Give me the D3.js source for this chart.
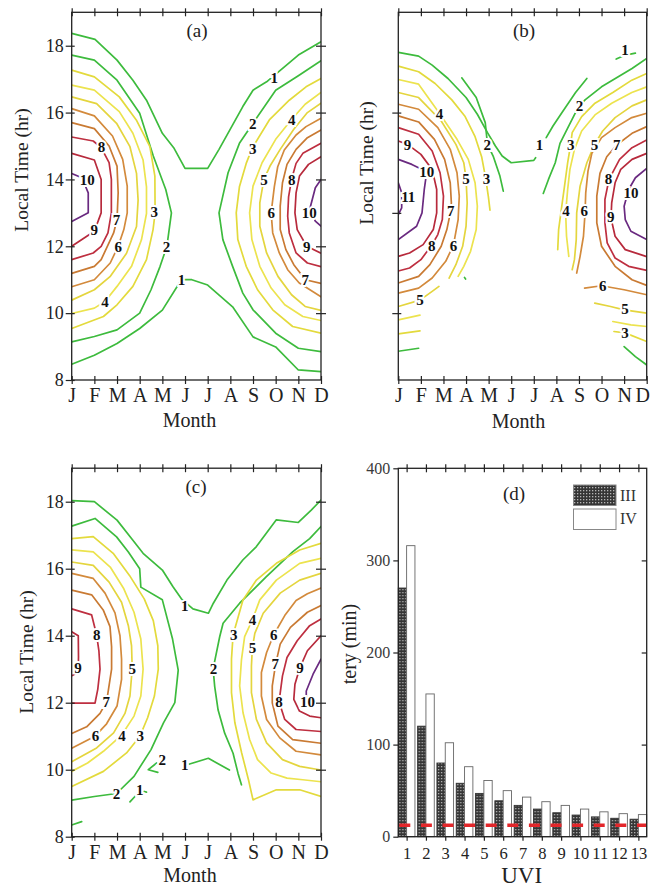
<!DOCTYPE html>
<html><head><meta charset="utf-8">
<script src="https://cdn.jsdelivr.net/npm/d3@7"></script>
<style>body{margin:0;background:#fff}svg{display:block}</style>
</head><body><svg id="c" width="650" height="888"></svg>
<script>
// ---------------- DATA ----------------
const months = ["J","F","M","A","M","J","J","A","S","O","N","D"];
const hourTicks = [8,10,12,14,16,18];
const hourTicksB = [10,13,16];

// contour lines: [level, [[monthIndex, localHour], ...]]
const contoursA = [
 [1,[[0,18.37],[1.03,18.19],[2,17.57],[2.7,16.97],[3.3,16.37],[4,15.38],[4.5,14.95],[5,14.33],[6,14.33],[6.5,14.9],[7.55,16.18],[8,16.67],[8.6,16.92],[10,17.72],[11,18.12]]],
 [1,[[0,8.47],[1,8.74],[2,9.09],[3,9.54],[4,10.09],[4.84,11],[5.3,11],[6,10.84],[7.1,10.19],[8,9.29],[9,8.99],[10,8.3],[11,8.25]]],
 [2,[[0,17.72],[1,17.57],[2,16.97],[3,15.98],[3.6,14.7],[4.15,13.7],[4.4,13],[4.2,12],[3.9,11.4],[3.5,10.7],[3,10],[2,9.5],[1,9.3],[0,9.14]]],
 [3,[[0,17.27],[1,17.07],[2.1,16.47],[2.85,15.78],[3.45,14.98],[3.67,14.1],[3.68,13],[3.59,12.5],[3.3,11.6],[2.7,10.8],[2,10.25],[1.4,9.9],[0,9.54]]],
 [4,[[0,16.82],[1,16.67],[2.1,16.03],[2.7,15.38],[3.15,14.58],[3.3,13.78],[3.3,12.98],[3.08,12.2],[2.64,11.4],[2,10.8],[1.47,10.35],[1,10.15],[0,9.99]]],
 [5,[[0,16.47],[1.1,16.27],[1.98,15.68],[2.57,14.98],[2.86,14.18],[2.93,13.38],[2.86,12.59],[2.42,11.79],[1.69,11.09],[1,10.7],[0,10.39]]],
 [6,[[0,16.12],[1,15.9],[1.8,15.3],[2.25,14.6],[2.45,13.8],[2.45,13],[2.3,12.5],[2.05,12],[1.7,11.5],[1,11],[0,10.79]]],
 [7,[[0,15.7],[1,15.52],[1.65,15],[2,14.4],[2.05,13.6],[2,12.8],[1.85,12.4],[1.3,11.6],[1,11.4],[0,11.19]]],
 [8,[[0,15.27],[0.95,15.15],[1.3,14.95],[1.65,14.5],[1.75,14],[1.75,13],[1.6,12.4],[1.3,12],[0.95,11.8],[0,11.6]]],
 [9,[[0,14.78],[1,14.58],[1.3,14],[1.3,13],[1,12.45],[0,12]]],
 [10,[[0,14.18],[0.45,14.05],[0.73,13.6],[0.73,13],[0,12.74]]],
 [2,[[11,17.55],[10,17.1],[9,16.67],[8,15.68],[7.4,15.08],[6.9,14.2],[6.5,13],[6.67,12.2],[7.1,11.4],[7.55,10.6],[8,10.1],[9,9.4],[10,8.95],[11,8.85]]],
 [3,[[11,17.02],[10.34,16.77],[9.6,16.37],[8.72,15.78],[7.96,14.93],[7.7,14.48],[7.4,13.78],[7.26,13],[7.33,12.2],[7.7,11.4],[8.2,10.7],[8.87,10.1],[9.75,9.6],[11,9.4]]],
 [4,[[11,16.6],[10.3,16.25],[9.71,15.8],[9,15.2],[8.4,14.5],[8,13.8],[7.85,13],[7.95,12.2],[8.3,11.4],[8.8,10.75],[9.4,10.25],[10.2,9.9],[11,9.78]]],
 [5,[[11,16.28],[10.4,16],[9.8,15.5],[9.2,14.9],[8.75,14.4],[8.48,14],[8.3,13.3],[8.3,12.6],[8.6,11.8],[9.1,11.1],[9.7,10.55],[10.3,10.2],[11,10.08]]],
 [6,[[11,15.83],[10.34,15.58],[9.9,15.33],[9.38,14.88],[9.09,14.38],[8.94,13.78],[8.8,13],[8.87,12.4],[9.16,11.8],[9.53,11.3],[10.04,10.9],[11,10.49]]],
 [7,[[11,15.48],[10.4,15.25],[9.9,14.9],[9.5,14.45],[9.3,13.9],[9.2,13.2],[9.2,12.5],[9.45,11.9],[9.8,11.45],[10.31,11],[11,10.89]]],
 [8,[[11,15.08],[10.2,14.78],[9.9,14.48],[9.71,14.03],[9.57,13.48],[9.53,12.9],[9.6,12.4],[9.9,11.8],[10.4,11.5],[11,11.39]]],
 [9,[[11,14.68],[10.45,14.45],[10.05,14.1],[9.9,13.6],[9.85,13],[9.95,12.5],[10.37,12],[11,11.79]]],
 [10,[[11,14],[10.75,13.75],[10.5,13.1],[10.75,12.75],[11,12.6]]]
];
const labelsA = [[10,0.69,14.0],[9,1.0,12.49],[8,1.32,14.98],[7,1.98,12.79],[6,2.05,12.0],[4,1.47,10.34],[3,3.64,13.03],[2,4.18,12.0],[1,4.84,11.0],
 [1,8.94,17.05],[2,7.99,15.68],[3,7.99,14.93],[4,9.71,15.8],[5,8.48,14.0],[8,9.71,14.0],[6,8.8,13.0],[10,10.48,13.0],[9,10.37,12.0],[7,10.31,11.0]];

const contoursB = [
 [2,[[0,17.8],[0.9,17.69],[1.5,17.42],[2.2,17.02],[3,16.45],[3.5,15.95],[3.95,15.4],[4.3,15],[4.6,14.7],[5,14.5],[6,14.57],[6.08,14.65]]],
 [1,[[6.55,15.25],[6.85,15.6],[7.25,16],[7.85,16.6],[8.35,17.02]]],
 [1,[[9.65,17.6],[10.05,17.72],[10.5,17.78]]],
 [1,[[2.81,17.04],[3.45,16.45],[3.85,15.7],[3.95,15.05],[4.2,14.7],[4.5,14.1],[4.65,13.65]]],
 [2,[[11,17.62],[10.35,17.32],[9,16.77],[8.27,16.38],[7.97,16.16],[7.55,15.6],[7.16,15.08],[6.95,14.5],[6.65,14],[6.42,13.58]]],
 [2,[[0,8.86],[0.9,8.95]]],
 [2,[[2.93,11.07],[2.98,11.02]]],
 [2,[[10,9.0],[10.5,8.7],[11,8.45]]],
 [3,[[0,17.39],[0.9,17.22],[1.63,16.87],[2.37,16.38],[2.96,15.88],[3.4,15.28],[3.69,14.68],[3.87,14.03],[3.99,13.48],[4.06,13.08]]],
 [3,[[0,9.38],[0.96,9.47]]],
 [3,[[11,17.17],[10.34,16.97],[9.5,16.6],[8.71,16.28],[8.12,15.88],[7.7,15.4],[7.63,15.03],[7.5,14.5],[7.38,13.9],[7.24,13.2],[7.1,12.5],[7.06,11.9]]],
 [3,[[9.55,9.45],[10.04,9.41],[11,9.15]]],
 [4,[[0,16.99],[0.9,16.85],[1.82,15.98],[2.6,15.2],[3.1,14.6],[3.4,13.9],[3.5,13.2],[3.45,12.5],[3.2,11.85],[2.9,11.4],[2.65,11.1]]],
 [4,[[0,9.8],[0.96,9.94]]],
 [4,[[11,16.77],[10.34,16.6],[9.45,16.28],[8.71,15.93],[8.12,15.45],[7.8,14.9],[7.6,14.3],[7.5,13.7],[7.41,13],[7.45,12.3],[7.55,11.7]]],
 [4,[[9.5,9.75],[10.3,9.65],[11,9.6]]],
 [5,[[0,16.6],[0.9,16.45],[1.9,15.75],[2.55,15.05],[2.9,14.5],[3,14.03],[3.05,13.3],[3,12.6],[2.85,12],[2.55,11.45],[2.25,11.05]]],
 [5,[[0,10.2],[0.96,10.39],[1.5,10.65],[1.8,10.8]]],
 [5,[[11,16.38],[10.35,16.2],[9.6,15.85],[9.05,15.45],[8.68,15.03],[8.35,14.5],[8.05,13.8],[7.9,13],[7.88,12.2],[7.8,11.6],[7.7,11.3]]],
 [5,[[8.7,10.3],[9.4,10.2],[10,10.1],[11,10]]],
 [6,[[0,16.25],[0.9,16.1],[1.75,15.55],[2.3,14.9],[2.6,14.2],[2.7,13.5],[2.65,12.8],[2.44,12.03],[2.1,11.55],[1.5,11.05],[0.9,10.75],[0,10.6]]],
 [6,[[11,15.98],[10.34,15.85],[9.6,15.55],[9,15.25],[8.57,14.78],[8.4,14.25],[8.3,13.6],[8.27,13],[8.2,12.3],[8.05,11.7],[7.9,11.2]]],
 [6,[[8.25,10.75],[9,10.82],[10,10.7],[11,10.55]]],
 [7,[[0,15.9],[0.9,15.72],[1.6,15.2],[2.05,14.6],[2.3,13.9],[2.35,13.3],[2.32,13.05],[2.15,12.5],[1.9,12],[1.4,11.45],[0.9,11.1],[0,10.9]]],
 [7,[[11,15.58],[10.35,15.38],[9.67,15.03],[9.23,14.68],[8.93,14.18],[8.79,13.5],[8.79,12.7],[9,12],[9.6,11.4],[10.35,11],[11,10.83]]],
 [8,[[0,15.55],[0.9,15.35],[1.5,14.85],[1.85,14.2],[2,13.5],[1.95,12.8],[1.75,12.35],[1.48,12.03],[1,11.6],[0.5,11.35],[0,11.26]]],
 [8,[[11,15.18],[10.35,14.95],[9.8,14.6],[9.33,14],[9.15,13.4],[9.15,12.7],[9.25,12.1],[9.6,11.65],[10.2,11.4],[11,11.28]]],
 [9,[[0,15.15],[0.41,15.05],[1,14.75],[1.5,14.3],[1.7,13.7],[1.7,13],[1.55,12.5],[1.1,12.05],[0.5,11.8],[0,11.7]]],
 [9,[[11,14.78],[10.35,14.6],[9.85,14.3],[9.6,13.9],[9.45,13.3],[9.42,12.84],[9.6,12.3],[10.05,11.9],[11,11.69]]],
 [10,[[0,14.6],[0.6,14.45],[1.26,14.23],[1.15,13.7],[1.05,13],[0.81,12.6],[0,12.2]]],
 [10,[[11,14.33],[10.5,14.05],[10.2,13.7],[10,13.2],[10.05,12.8],[10.3,12.45],[11,12.2]]],
 [11,[[0,13.9],[0.15,13.6],[0.15,13.15],[0,12.95]]]
];
const labelsB = [[4,1.82,15.98],[9,0.41,15.05],[10,1.26,14.23],[11,0.44,13.48],[7,2.32,13.05],[8,1.48,12.03],[6,2.44,12.03],[5,3.0,14.03],[3,3.91,14.03],[2,3.94,15.05],[5,0.96,10.39],
 [1,6.25,15.03],[3,7.64,15.03],[5,8.69,15.03],[7,9.67,15.03],[2,8.02,16.2],[1,10.04,17.89],[8,9.31,14.03],[10,10.31,13.6],[4,7.43,13.05],[6,8.23,13.05],[9,9.41,12.88],[6,9.05,10.83],[5,10.04,10.13],[3,10.04,9.41]];

const contoursC = [
 [1,[[0,18.03],[1,18],[2,17.45],[2.7,16.85],[3.15,16.46],[4,15.96],[4.47,15.46],[4.84,15.1],[5.35,14.8],[6.03,14.67],[6.25,14.97],[6.85,15.66],[7.55,16.26],[8.15,16.66],[9.03,17.46],[10,17.38],[10.57,17.75],[11,18.05]]],
 [1,[[5.2,10.17],[6.03,10.34],[6.96,9.99]]],
 [1,[[2.57,9.04],[2.79,9.2]]],
 [1,[[3.2,9.35],[3.3,9.33]]],
 [1,[[0,8.35],[0.44,8.45]]],
 [2,[[0,17.27],[1.03,17.5],[1.98,16.95],[2.5,16.5],[3,16],[3.05,15.45],[4,15.07],[4.45,13.9],[4.7,12.97],[4.55,12],[4.05,11.4],[3.5,10.6],[2.75,9.8],[1.98,9.29],[1,9.2],[0,9.09]]],
 [2,[[3.75,10.2],[3.38,10.0],[3.8,9.92]]],
 [2,[[11,17.26],[10.5,16.9],[9.76,16.51],[8.59,15.76],[7.41,14.97],[6.68,14.37],[6.53,13.97],[6.24,13.01],[6.31,12.48],[6.46,11.78],[6.75,11.09],[7.12,10.49],[7.34,9.89],[7.49,9.55]]],
 [3,[[0,16.9],[0.95,16.96],[1.83,16.46],[2.55,15.8],[3.2,15.1],[3.6,14.45],[3.8,13.7],[3.82,13],[3.65,12.2],[3.35,11.55],[3.01,11],[2.42,10.5],[1.4,9.95],[0,9.5]]],
 [4,[[0,16.56],[0.95,16.5],[1.7,16.05],[2.3,15.4],[2.75,14.7],[3.05,13.9],[3.15,13],[3.05,12.2],[2.75,11.6],[2.2,11.03],[1.4,10.55],[0.7,10.2],[0,9.95]]],
 [5,[[0,16.2],[0.95,16.1],[1.65,15.6],[2.2,15],[2.5,14.3],[2.64,13.7],[2.67,13.02],[2.57,12.2],[2.35,11.68],[1.85,11.1],[1.1,10.65],[0,10.24]]],
 [6,[[0,15.86],[0.95,15.71],[1.47,15.27],[1.91,14.68],[2.13,14],[2.2,13.3],[2.2,12.7],[2,11.9],[1.54,11.37],[1.03,11],[0,10.64]]],
 [7,[[0,15.36],[0.88,15.22],[1.39,14.77],[1.69,14.27],[1.76,13.67],[1.76,13],[1.54,12.03],[1.25,11.68],[0.66,11.28],[0,11.08]]],
 [8,[[0,14.8],[0.88,14.62],[1.1,14.02],[1.2,13.55],[1.25,13],[1.15,12.4],[1.03,11.99],[0,11.99]]],
 [9,[[0,14.12],[0.29,14],[0.3,13.37],[0.29,13],[0.12,12.85],[0,12.8]]],
 [3,[[11,16.76],[10.06,16.56],[9.03,16.16],[8.15,15.66],[7.56,15.07],[7.12,14.02],[7.05,13.3],[7.05,12.3],[7.2,11.4],[7.5,10.5],[7.8,9.7],[8,9.1],[9.03,9.4],[10.06,9.4],[11,9.2]]],
 [4,[[11,16.31],[10.06,16.16],[9.03,15.66],[8.3,15.07],[7.97,14.47],[7.63,13.97],[7.49,13.28],[7.41,12.5],[7.56,11.7],[7.85,10.9],[8.2,10.3],[8.8,9.9],[9.5,9.75],[10.2,9.7],[11,9.64]]],
 [5,[[11,15.86],[10.06,15.66],[9.2,15.27],[8.45,14.67],[8.08,14.07],[7.97,13.63],[7.93,13.1],[7.93,12.3],[8.15,11.5],[8.6,10.8],[9.3,10.3],[10.06,10.1],[11,9.99]]],
 [6,[[11,15.42],[10.4,15.25],[9.9,15.05],[9.4,14.6],[8.91,14.02],[8.6,13.5],[8.37,12.9],[8.37,12.2],[8.6,11.5],[9.18,10.95],[9.9,10.55],[11,10.44]]],
 [7,[[11,14.9],[10.4,14.7],[9.65,14.25],[9.2,13.75],[9,13.16],[8.85,12.5],[8.85,12],[9.1,11.3],[9.75,10.9],[11,10.79]]],
 [8,[[11,14.5],[10.5,14.3],[9.95,13.85],[9.5,13.35],[9.3,12.8],[9.15,12.03],[9.4,11.5],[9.9,11.2],[11,11.14]]],
 [9,[[11,14],[10.4,13.55],[10.06,13.03],[9.85,12.55],[9.8,12.1],[10.05,11.75],[10.5,11.6],[11,11.55]]],
 [10,[[11,13.3],[10.65,12.85],[10.35,12.35],[10.35,12.1]]]
];
const labelsC = [[1,4.99,14.88],[8,1.1,14.02],[9,0.28,13.05],[5,2.67,13.02],[7,1.52,12.02],[6,1.05,11.0],[4,2.22,11.02],[3,3.02,11.02],[2,3.99,10.31],[1,4.99,10.14],[2,1.98,9.29],[1,3.0,9.39],
 [2,6.26,13.02],[3,7.15,14.02],[4,7.98,14.47],[5,7.98,13.63],[6,8.92,14.02],[7,8.98,13.16],[9,10.07,13.03],[8,9.15,12.03],[10,10.4,12.02]];

// bar chart (d)
const uviCategories = ["1","2","3","4","5","6","7","8","9","10","11","12","13"];
const seriesNames = ["III","IV"];
const seriesIII = [270,120,80,58,47,39,34,30,26,23.5,21.5,20,19];
const seriesIV  = [316,155,102,76,61,50,43,38,34,30,27,25,24];
const refLineValue = 12.5;
const barTicks = [0,100,200,300,400];

// ---------------- STYLE / DRAW ----------------
const levelColor = {1:"#3dbb3d",2:"#3dbb3d",3:"#e3da3c",4:"#ece34e",5:"#e4d53e",6:"#d38a3c",7:"#c97a33",8:"#be2f40",9:"#b72a3c",10:"#6a2a80",11:"#6a2a80"};
const serif = "'Liberation Serif','Times New Roman',serif";
const svg = d3.select("#c");
const defs = svg.append("defs");

function contourPanel(o){
  const x = d3.scaleLinear().domain([0,11]).range([o.x0,o.x1]);
  const y = d3.scaleLinear().domain([8,19]).range([o.yBot,o.yTop]);
  const g = svg.append("g");
  defs.append("clipPath").attr("id",o.id).append("rect")
    .attr("x",o.x0).attr("y",o.yTop).attr("width",o.x1-o.x0).attr("height",o.yBot-o.yTop);
  const line = d3.line().x(d=>x(d[0])).y(d=>y(d[1]));
  g.append("g").attr("clip-path",`url(#${o.id})`)
    .selectAll("path").data(o.lines).join("path")
    .attr("d",d=>line(d[1])).attr("fill","none")
    .attr("stroke",d=>levelColor[d[0]]).attr("stroke-width",1.7)
    .attr("stroke-linejoin","round").attr("stroke-linecap","round");
  g.append("g").selectAll("text").data(o.labels).join("text")
    .attr("x",d=>x(d[1])).attr("y",d=>y(d[2]))
    .attr("text-anchor","middle").attr("dy","0.35em")
    .attr("font-family",serif).attr("font-weight","bold").attr("font-size",15)
    .attr("stroke","#fff").attr("stroke-width",4).attr("paint-order","stroke")
    .attr("fill","#111").text(d=>d[0]);
  // frame
  g.append("rect").attr("x",o.x0).attr("y",o.yTop).attr("width",o.x1-o.x0).attr("height",o.yBot-o.yTop)
    .attr("fill","none").attr("stroke","#222").attr("stroke-width",1.3);
  const mt = d3.range(12);
  const styleAxis = s=>{s.select(".domain").remove(); s.selectAll("line").attr("stroke","#222").attr("stroke-width",1.2);};
  // bottom
  const bx = g.append("g").attr("transform",`translate(0,${o.yBot})`)
    .call(d3.axisBottom(x).tickValues(mt).tickFormat(i=>months[i]).tickSize(4).tickPadding(4));
  styleAxis(bx);
  bx.selectAll("text").attr("font-family",serif).attr("font-size",20).attr("fill","#222").attr("dy",0).attr("y",o.monthBase-o.yBot);
  if(o.lastLabelEnd){
    bx.selectAll(".tick").filter(d=>d===11).select("text")
      .attr("text-anchor","end").attr("x",o.lastLabelEnd-o.x1);
  }
  g.append("g").attr("transform",`translate(0,${o.yBot})`).call(d3.axisTop(x).tickValues(mt).tickFormat("").tickSize(4)).call(styleAxis);
  // top
  g.append("g").attr("transform",`translate(0,${o.yTop})`).call(d3.axisTop(x).tickValues(mt).tickFormat("").tickSize(4)).call(styleAxis);
  g.append("g").attr("transform",`translate(0,${o.yTop})`).call(d3.axisBottom(x).tickValues(mt).tickFormat("").tickSize(4)).call(styleAxis);
  // left
  const ly = g.append("g").attr("transform",`translate(${o.x0},0)`)
    .call(d3.axisLeft(y).tickValues(o.leftTicks).tickFormat(o.leftLabels?d3.format("d"):"").tickSize(6).tickPadding(2));
  styleAxis(ly);
  ly.selectAll("text").attr("font-family",serif).attr("font-size",18).attr("fill","#222");
  g.append("g").attr("transform",`translate(${o.x0},0)`).call(d3.axisRight(y).tickValues(o.leftTicks).tickFormat("").tickSize(3)).call(styleAxis);
  // right
  if(o.rightTicks){
    g.append("g").attr("transform",`translate(${o.x1},0)`).call(d3.axisRight(y).tickValues(o.rightTicks).tickFormat("").tickSize(5)).call(styleAxis);
    g.append("g").attr("transform",`translate(${o.x1},0)`).call(d3.axisLeft(y).tickValues(o.rightTicks).tickFormat("").tickSize(5)).call(styleAxis);
  }
  // titles
  g.append("text").attr("x",o.tagX).attr("y",o.tagY).attr("text-anchor","middle")
    .attr("font-family",serif).attr("font-size",19).attr("fill","#222").text(o.tag);
  g.append("text").attr("x",o.monthTitleX).attr("y",o.monthTitleY).attr("text-anchor","middle")
    .attr("font-family",serif).attr("font-size",20).attr("fill","#222").text("Month");
  g.append("text").attr("transform",`translate(${o.yTitleX},${o.yTitleY}) rotate(-90)`).attr("text-anchor","middle")
    .attr("font-family",serif).attr("font-size",19.5).attr("fill","#222").text("Local Time (hr)");
}

contourPanel({id:"clipA",x0:71.7,x1:321,yTop:12.3,yBot:380,lines:contoursA,labels:labelsA,
  leftTicks:hourTicks,leftLabels:true,rightTicks:hourTicks.slice(1),monthBase:402,
  tag:"(a)",tagX:197,tagY:37,monthTitleX:189.5,monthTitleY:427,yTitleX:28,yTitleY:170});
contourPanel({id:"clipB",x0:398.3,x1:646.7,yTop:12.3,yBot:380,lines:contoursB,labels:labelsB,
  leftTicks:hourTicksB,leftLabels:false,rightTicks:null,monthBase:402,lastLabelEnd:649.5,
  tag:"(b)",tagX:524,tagY:37,monthTitleX:518.5,monthTitleY:428,yTitleX:373,yTitleY:163});
contourPanel({id:"clipC",x0:71.7,x1:321,yTop:468.2,yBot:836.7,lines:contoursC,labels:labelsC,
  leftTicks:hourTicks,leftLabels:true,rightTicks:hourTicks.slice(1),monthBase:859,
  tag:"(c)",tagX:196,tagY:493,monthTitleX:190,monthTitleY:882,yTitleX:33,yTitleY:652});

// ---------- panel (d) ----------
(function(){
  const x0=398.3,x1=646.7,yTop=468.3,yBot=836.7;
  const pat = defs.append("pattern").attr("id","hatch").attr("patternUnits","userSpaceOnUse").attr("width",3).attr("height",3);
  pat.append("rect").attr("width",3).attr("height",3).attr("fill","#353535");
  pat.append("rect").attr("x",1).attr("y",1).attr("width",1.3).attr("height",1.3).attr("fill","#b5b5b5");
  const x = d3.scaleBand().domain(uviCategories).range([x0,x1]).paddingInner(0.138).paddingOuter(0);
  const x1s = d3.scaleBand().domain(seriesNames).range([0,x.bandwidth()]);
  const y = d3.scaleLinear().domain([0,400]).range([yBot,yTop]);
  const g = svg.append("g");
  const rows = uviCategories.map((c,i)=>({c, vals:[["III",seriesIII[i]],["IV",seriesIV[i]]]}));
  const grp = g.selectAll("g.grp").data(rows).join("g").attr("transform",d=>`translate(${x(d.c)},0)`);
  grp.selectAll("rect").data(d=>d.vals).join("rect")
    .attr("x",d=>x1s(d[0])).attr("width",x1s.bandwidth())
    .attr("y",d=>y(d[1])).attr("height",d=>yBot-y(d[1]))
    .attr("fill",d=>d[0]==="III"?"url(#hatch)":"#fff")
    .attr("stroke",d=>d[0]==="III"?"#333":"#666").attr("stroke-width",0.9);
  // reference dashed line
  g.append("line").attr("x1",x0+1).attr("x2",x1).attr("y1",y(refLineValue)).attr("y2",y(refLineValue))
    .attr("stroke","#e3262a").attr("stroke-width",3.5).attr("stroke-dasharray","11,10.6");
  // frame
  g.append("rect").attr("x",x0).attr("y",yTop).attr("width",x1-x0).attr("height",yBot-yTop)
    .attr("fill","none").attr("stroke","#222").attr("stroke-width",1.3);
  const styleAxis = s=>{s.select(".domain").remove(); s.selectAll("line").attr("stroke","#222").attr("stroke-width",1.2);};
  const centers = uviCategories;
  const xc = d3.scalePoint().domain(centers).range([x(centers[0])+x.bandwidth()/2, x(centers[centers.length-1])+x.bandwidth()/2]);
  const bx = g.append("g").attr("transform",`translate(0,${yBot})`)
    .call(d3.axisBottom(xc).tickSize(4).tickPadding(3));
  styleAxis(bx);
  bx.selectAll("text").attr("font-family",serif).attr("font-size",16.5).attr("fill","#222").attr("dy",0).attr("y",859-yBot);
  g.append("g").attr("transform",`translate(0,${yTop})`).call(d3.axisTop(xc).tickFormat("").tickSize(4)).call(styleAxis);
  g.append("g").attr("transform",`translate(0,${yTop})`).call(d3.axisBottom(xc).tickFormat("").tickSize(4)).call(styleAxis);
  const ly = g.append("g").attr("transform",`translate(${x0},0)`)
    .call(d3.axisLeft(y).tickValues(barTicks).tickSize(5).tickPadding(3));
  styleAxis(ly);
  ly.selectAll("text").attr("font-family",serif).attr("font-size",16).attr("fill","#3a3a3a");
  g.append("g").attr("transform",`translate(${x1},0)`).call(d3.axisLeft(y).tickValues([100,200,300]).tickFormat("").tickSize(5)).call(styleAxis);
  g.append("text").attr("x",514).attr("y",500).attr("text-anchor","middle")
    .attr("font-family",serif).attr("font-size",19).attr("fill","#222").text("(d)");
  g.append("text").attr("x",521.7).attr("y",883).attr("text-anchor","middle")
    .attr("font-family",serif).attr("font-size",23).attr("fill","#222").text("UVI");
  g.append("text").attr("transform","translate(356,644) rotate(-90)").attr("text-anchor","middle")
    .attr("font-family",serif).attr("font-size",20).attr("fill","#222").text("tery (min)");
  // legend
  const leg = g.append("g");
  seriesNames.forEach((s,i)=>{
    leg.append("rect").attr("x",573.5).attr("y",485+i*24).attr("width",42.5).attr("height",20.5)
      .attr("fill",s==="III"?"url(#hatch)":"#fff").attr("stroke","#888").attr("stroke-width",1);
    leg.append("text").attr("x",620).attr("y",501+i*23).attr("font-family",serif).attr("font-size",16)
      .attr("fill","#333").text(s);
  });
})();
</script></body></html>
